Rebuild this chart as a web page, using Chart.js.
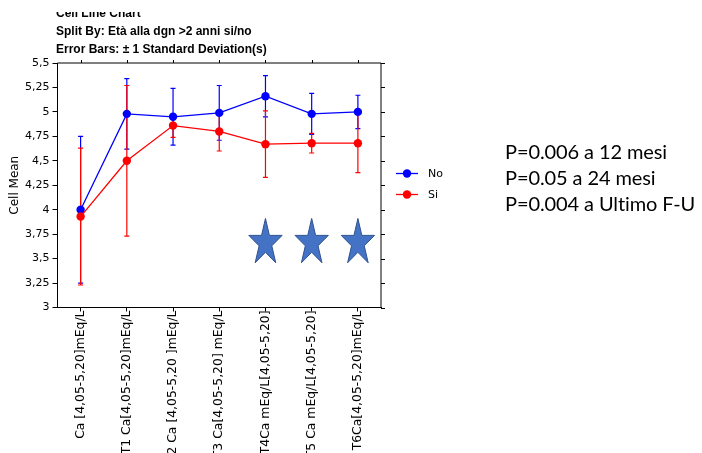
<!DOCTYPE html>
<html>
<head>
<meta charset="utf-8">
<script src="https://cdn.jsdelivr.net/npm/chart.js@4.4.1/dist/chart.umd.min.js"></script>
<style>
  body { margin: 0; background: #fff; }
  #wrap { position: relative; width: 702px; height: 453px; overflow: hidden; }
  #chart { position: absolute; left: 0; top: 0; }
  .ttl { position: absolute; left: 56px; font: bold 12px "Liberation Sans", Arial, sans-serif; line-height: 12px; color: #000; white-space: nowrap; }
  #clip { position: absolute; left: 56px; top: 12px; height: 8px; width: 200px; overflow: hidden; }
  #clip .ttl { left: 0; top: -5px; }
  .pv { position: absolute; left: 505px; font: 20px Lato, "Noto Sans", sans-serif; letter-spacing: -0.1px; line-height: 24px; color: #000; white-space: nowrap; }
</style>
</head>
<body>
<div id="wrap">
  <canvas id="chart" width="702" height="453"></canvas>
  <div id="clip"><div class="ttl">Cell Line Chart</div></div>
  <div class="ttl" style="top:25px">Split By: Età alla dgn &gt;2 anni si/no</div>
  <div class="ttl" style="top:43px">Error Bars: ± 1 Standard Deviation(s)</div>
  <div class="pv" style="top:139px">P=0.006 a 12 mesi</div>
  <div class="pv" style="top:165px">P=0.05 a 24 mesi</div>
  <div class="pv" style="top:191px">P=0.004 a Ultimo F-U</div>
</div>
<script>
const categories = [
  'Ca [4,05-5,20]mEq/L',
  'T1 Ca[4,05-5,20]mEq/L',
  'T2 Ca [4,05-5,20 ]mEq/L',
  'T3 Ca[4,05-5,20] mEq/L',
  'T4Ca mEq/L[4,05-5,20]',
  'T5 Ca mEq/L[4,05-5,20]',
  'T6Ca[4,05-5,20]mEq/L'
];
const noMean = [4.00, 4.98, 4.95, 4.99, 5.16, 4.98, 5.00];
const noSD   = [0.75, 0.36, 0.29, 0.28, 0.21, 0.21, 0.17];
const siMean = [3.93, 4.50, 4.86, 4.80, 4.67, 4.68, 4.68];
const siSD   = [0.70, 0.77, 0.12, 0.20, 0.34, 0.10, 0.30];
const yTicks = [3, 3.25, 3.5, 3.75, 4, 4.25, 4.5, 4.75, 5, 5.25, 5.5];
// stelle di significatività
const starCats = [4, 5, 6];
const starLevel = 3.66;

const BLUE = '#0000ff';
const RED = '#ff0000';
const FONT = '"DejaVu Sans", sans-serif';

const errorBars = {
  id: 'errorBars',
  beforeDatasetsDraw(chart) {
    const ctx = chart.ctx;
    const x = chart.scales.x, y = chart.scales.y;
    chart.data.datasets.forEach(ds => {
      ctx.save();
      ctx.strokeStyle = ds.borderColor;
      ctx.lineWidth = 1.2;
      ds.data.forEach((m, i) => {
        const px = x.getPixelForValue(i);
        const top = y.getPixelForValue(m + ds.sd[i]);
        const bot = y.getPixelForValue(m - ds.sd[i]);
        ctx.beginPath();
        ctx.moveTo(px, top); ctx.lineTo(px, bot);
        ctx.moveTo(px - 2.5, top); ctx.lineTo(px + 2.5, top);
        ctx.moveTo(px - 2.5, bot); ctx.lineTo(px + 2.5, bot);
        ctx.stroke();
      });
      ctx.restore();
    });
  }
};

const frame = {
  id: 'frame',
  afterDraw(chart) {
    const ctx = chart.ctx, a = chart.chartArea;
    const x = chart.scales.x, y = chart.scales.y;
    ctx.save();
    ctx.strokeStyle = '#000';
    ctx.lineWidth = 1;
    ctx.beginPath();
    ctx.moveTo(a.left, a.top); ctx.lineTo(a.right, a.top); ctx.lineTo(a.right, a.bottom);
    categories.forEach((c, i) => {
      const px = Math.round(x.getPixelForValue(i)) + 0.5;
      ctx.moveTo(px, a.top); ctx.lineTo(px, a.top - 3);
    });
    yTicks.forEach(v => {
      const py = Math.round(y.getPixelForValue(v)) + 0.5;
      ctx.moveTo(a.right, py); ctx.lineTo(a.right + 4, py);
    });
    ctx.stroke();
    ctx.restore();
  }
};

const stars = {
  id: 'stars',
  afterDatasetsDraw(chart) {
    const ctx = chart.ctx;
    const x = chart.scales.x, y = chart.scales.y;
    const rx = 17.5, ry = 24.5;
    starCats.forEach(i => {
      const cx = x.getPixelForValue(i), cy = y.getPixelForValue(starLevel);
      ctx.save();
      ctx.beginPath();
      for (let k = 0; k < 10; k++) {
        const ang = -Math.PI / 2 + k * Math.PI / 5;
        const r = k % 2 ? 0.382 : 1;
        const px = cx + Math.cos(ang) * rx * r, py = cy + Math.sin(ang) * ry * r;
        k ? ctx.lineTo(px, py) : ctx.moveTo(px, py);
      }
      ctx.closePath();
      ctx.fillStyle = '#4472c4';
      ctx.fill();
      ctx.strokeStyle = '#2f528f';
      ctx.lineWidth = 1;
      ctx.stroke();
      ctx.restore();
    });
  }
};

const legendBox = {
  id: 'legendBox',
  afterDraw(chart) {
    const ctx = chart.ctx;
    const items = [chart.data.datasets[0], chart.data.datasets[1]];
    items.forEach((ds, k) => {
      const yy = 173.5 + k * 21;
      ctx.save();
      ctx.strokeStyle = ds.borderColor;
      ctx.lineWidth = 1.3;
      ctx.beginPath(); ctx.moveTo(396, yy); ctx.lineTo(418, yy); ctx.stroke();
      ctx.fillStyle = ds.borderColor;
      ctx.beginPath(); ctx.arc(407, yy, 4.2, 0, Math.PI * 2); ctx.fill();
      ctx.fillStyle = '#000';
      ctx.font = '11px ' + FONT;
      ctx.textBaseline = 'middle';
      ctx.fillText(ds.label, 428, yy + 0.5);
      ctx.restore();
    });
  }
};

new Chart(document.getElementById('chart'), {
  type: 'line',
  data: {
    labels: categories,
    datasets: [
      { label: 'No', data: noMean, sd: noSD, borderColor: BLUE, backgroundColor: BLUE,
        borderWidth: 1.3, pointRadius: 4.2, pointBorderWidth: 0, pointBackgroundColor: BLUE, order: 2 },
      { label: 'Si', data: siMean, sd: siSD, borderColor: RED, backgroundColor: RED,
        borderWidth: 1.3, pointRadius: 4.2, pointBorderWidth: 0, pointBackgroundColor: RED, order: 1 }
    ]
  },
  options: {
    responsive: false,
    animation: false,
    devicePixelRatio: 1,
    layout: { padding: { top: 63, right: 321, left: 0, bottom: 0 } },
    plugins: { legend: { display: false }, tooltip: { enabled: false } },
    scales: {
      x: {
        offset: true,
        grid: { offset: false, drawOnChartArea: false, drawTicks: true, tickLength: 4, color: '#000' },
        border: { display: true, color: '#000', width: 1 },
        ticks: { autoSkip: false, minRotation: 90, maxRotation: 90, color: '#000', padding: -1,
                 font: { family: FONT, size: 12.4 } },
        afterFit: s => { s.height = 453 - 307.5; }
      },
      y: {
        min: 3, max: 5.5,
        afterBuildTicks: s => { s.ticks = yTicks.map(v => ({ value: v })); },
        grid: { drawOnChartArea: false, drawTicks: true, tickLength: 5, color: '#000' },
        border: { display: true, color: '#000', width: 1 },
        ticks: { color: '#000', padding: 3, font: { family: FONT, size: 11 },
                 callback: v => String(v).replace('.', ',') },
        title: { display: true, text: 'Cell Mean', color: '#000', padding: { top: 8, bottom: 0 },
                 font: { family: FONT, size: 12 } },
        afterFit: s => { s.width = 57.5; }
      }
    }
  },
  plugins: [errorBars, stars, frame, legendBox]
});
</script>
</body>
</html>
